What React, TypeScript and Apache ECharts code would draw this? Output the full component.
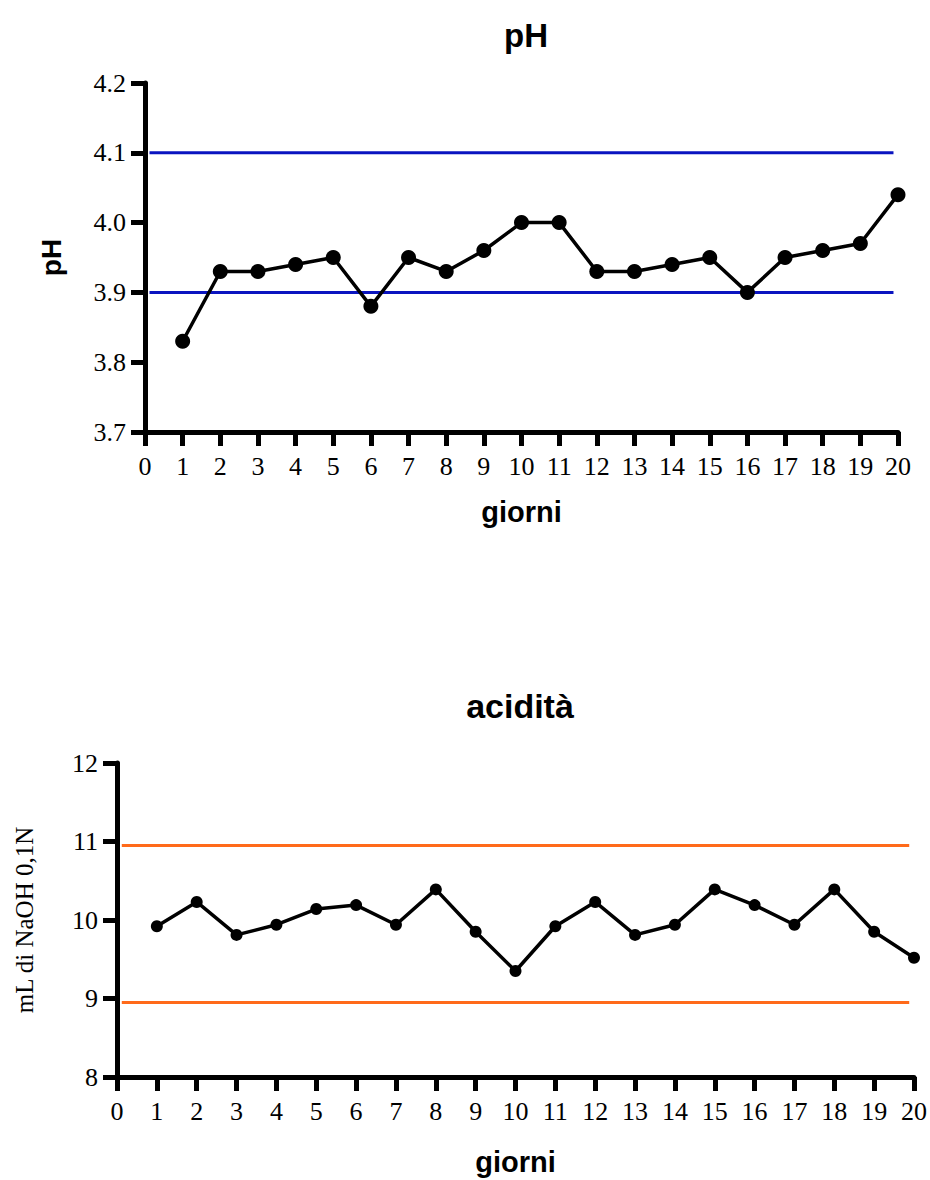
import React, { useEffect, useRef } from "react";
import * as echarts from "echarts";

const days = [1, 2, 3, 4, 5, 6, 7, 8, 9, 10, 11, 12, 13, 14, 15, 16, 17, 18, 19, 20];
const phValues = [3.83, 3.93, 3.93, 3.94, 3.95, 3.88, 3.95, 3.93, 3.96, 4.0, 4.0, 3.93, 3.93, 3.94, 3.95, 3.9, 3.95, 3.96, 3.97, 4.04];
const acidValues = [9.92, 10.23, 9.81, 9.94, 10.14, 10.19, 9.94, 10.39, 9.85, 9.35, 9.92, 10.23, 9.81, 9.94, 10.39, 10.19, 9.94, 10.39, 9.85, 9.52];
const phLimits = [4.1, 3.9];
const acidLimits = [10.95, 8.95];
const limitSpan = [0.12, 19.88];

const SERIF = "'Liberation Serif', 'Times New Roman', serif";
const SANS = "'Liberation Sans', Arial, sans-serif";

export default function App() {
  const ref = useRef<HTMLDivElement>(null);
  useEffect(() => {
    if (!ref.current) return;
    const chart = echarts.init(ref.current, null, { renderer: "svg" });
    const axisCommon = {
      axisLine: { show: true, onZero: false, lineStyle: { color: "#000", width: 5 } },
      axisTick: { show: true, length: 14, lineStyle: { color: "#000", width: 5 } },
      splitLine: { show: false },
    };
    const xAxis = (gridIndex: number, nameGap: number) => ({
      type: "value",
      gridIndex,
      min: 0,
      max: 20,
      interval: 1,
      name: "giorni",
      nameLocation: "middle",
      nameGap,
      nameTextStyle: { fontFamily: SANS, fontWeight: "bold", fontSize: 29, color: "#000" },
      axisLabel: { fontFamily: SERIF, fontSize: 26, color: "#000", margin: 21 },
      ...axisCommon,
    });
    const limitSeries = (xi: number, val: number, color: string) => ({
      type: "line",
      xAxisIndex: xi,
      yAxisIndex: xi,
      data: limitSpan.map((x) => [x, val]),
      symbol: "none",
      lineStyle: { color, width: 3 },
      z: 1,
      silent: true,
    });
    chart.setOption({
      animation: false,
      backgroundColor: "#fff",
      title: [
        {
          text: "pH",
          left: 521,
          top: 14,
          textAlign: "center",
          textStyle: { fontFamily: SANS, fontWeight: "bold", fontSize: 33, color: "#000" },
        },
        {
          text: "acidità",
          left: 515,
          top: 684,
          textAlign: "center",
          textStyle: { fontFamily: SANS, fontWeight: "bold", fontSize: 34, color: "#000" },
        },
      ],
      grid: [
        { left: 145, top: 83, width: 753, height: 349 },
        { left: 117, top: 763, width: 797, height: 314 },
      ],
      xAxis: [xAxis(0, 65), xAxis(1, 70)],
      yAxis: [
        {
          type: "value",
          gridIndex: 0,
          min: 3.7,
          max: 4.2,
          interval: 0.1,
          name: "pH",
          nameLocation: "middle",
          nameGap: 80,
          nameTextStyle: { fontFamily: SANS, fontWeight: "bold", fontSize: 28, color: "#000" },
          axisLabel: {
            fontFamily: SERIF,
            fontSize: 26,
            color: "#000",
            margin: 19,
            formatter: (v: number) => v.toFixed(1),
          },
          ...axisCommon,
        },
        {
          type: "value",
          gridIndex: 1,
          min: 8,
          max: 12,
          interval: 1,
          name: "mL di NaOH 0,1N",
          nameLocation: "middle",
          nameGap: 80,
          nameTextStyle: { fontFamily: SERIF, fontSize: 25, color: "#000" },
          axisLabel: { fontFamily: SERIF, fontSize: 26, color: "#000", margin: 19 },
          ...axisCommon,
        },
      ],
      series: [
        ...phLimits.map((v) => limitSeries(0, v, "#0a14c0")),
        ...acidLimits.map((v) => limitSeries(1, v, "#ff6a1a")),
        {
          type: "line",
          xAxisIndex: 0,
          yAxisIndex: 0,
          data: days.map((d, i) => [d, phValues[i]]),
          symbol: "circle",
          symbolSize: 15,
          itemStyle: { color: "#000" },
          lineStyle: { color: "#000", width: 3.5 },
          z: 5,
        },
        {
          type: "line",
          xAxisIndex: 1,
          yAxisIndex: 1,
          data: days.map((d, i) => [d, acidValues[i]]),
          symbol: "circle",
          symbolSize: 12,
          itemStyle: { color: "#000" },
          lineStyle: { color: "#000", width: 3.5 },
          z: 5,
        },
      ],
    });
    return () => chart.dispose();
  }, []);
  return (
    <div
      ref={ref}
      style={{ position: "absolute", left: 0, top: 0, width: 930, height: 1180, background: "#fff" }}
    />
  );
}
